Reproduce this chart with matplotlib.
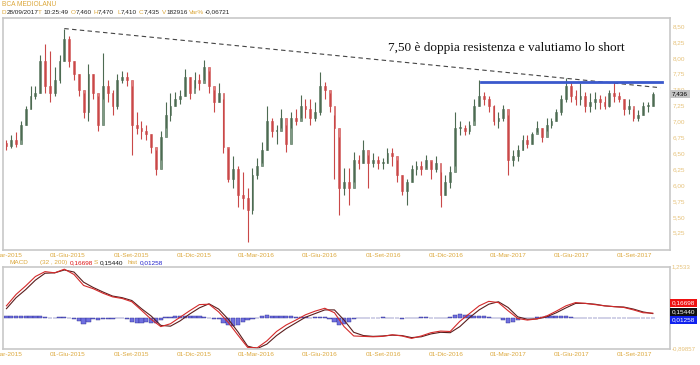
import numpy as np
import pandas as pd
import matplotlib
matplotlib.use("Agg")
import matplotlib.pyplot as plt

# weekly candles (BCA Mediolanum, Mar 2015 - Sep 2017)
close = [6.62, 6.70, 6.65, 6.95, 7.20, 7.40, 7.45, 7.95, 7.55, 7.45,
         7.65, 7.95, 8.30, 7.95, 7.75, 7.50, 7.15, 7.75, 7.45, 6.95,
         7.55, 7.45, 7.25, 7.65, 7.70, 7.65, 6.95, 6.90, 6.85, 6.80,
         6.60, 6.25, 6.75, 7.10, 7.25, 7.35, 7.40, 7.70, 7.45, 7.65,
         7.60, 7.85, 7.55, 7.30, 7.45, 6.60, 6.10, 6.25, 5.85, 5.80,
         5.60, 6.15, 6.30, 6.55, 7.00, 6.85, 6.85, 7.05, 6.65, 7.05,
         7.00, 7.25, 7.20, 7.05, 7.15, 7.55, 7.50, 7.25, 6.90, 5.95,
         6.05, 5.95, 6.40, 6.35, 6.55, 6.35, 6.40, 6.35, 6.35, 6.50,
         6.45, 6.15, 5.90, 6.05, 6.25, 6.30, 6.25, 6.40, 6.25, 6.35,
         5.85, 6.05, 6.20, 6.90, 6.90, 6.85, 6.95, 7.25, 7.40, 7.35,
         7.25, 7.00, 7.05, 7.20, 6.40, 6.45, 6.55, 6.70, 6.65, 6.80,
         6.90, 6.75, 6.95, 7.00, 7.15, 7.35, 7.55, 7.40, 7.35, 7.40,
         7.25, 7.30, 7.35, 7.30, 7.25, 7.45, 7.40, 7.35, 7.20, 7.25,
         7.05, 7.10, 7.25, 7.25, 7.436]
high = [6.70, 6.78, 6.84, 7.00, 7.25, 7.55, 7.55, 8.05, 8.21, 8.10,
        7.85, 8.05, 8.46, 8.35, 7.95, 7.75, 7.45, 7.90, 7.75, 7.40,
        8.07, 7.65, 7.50, 7.75, 7.80, 7.78, 7.55, 7.15, 7.00, 6.95,
        6.80, 6.55, 6.85, 7.30, 7.45, 7.47, 7.50, 7.83, 7.70, 7.78,
        7.75, 7.97, 7.80, 7.50, 7.60, 7.35, 6.58, 6.45, 6.30, 6.20,
        5.95, 6.26, 6.42, 6.68, 7.25, 7.05, 6.95, 7.20, 6.94, 7.15,
        7.20, 7.41, 7.35, 7.35, 7.30, 7.78, 7.62, 7.45, 7.10, 6.75,
        6.26, 6.26, 6.52, 6.47, 6.70, 6.47, 6.50, 6.45, 6.42, 6.58,
        6.58, 6.40, 6.16, 6.10, 6.31, 6.37, 6.37, 6.47, 6.37, 6.45,
        6.20, 6.16, 6.30, 7.15, 7.00, 6.95, 7.00, 7.36, 7.65, 7.47,
        7.40, 7.26, 7.15, 7.26, 7.10, 6.55, 6.63, 6.79, 6.79, 6.84,
        7.00, 6.90, 7.05, 7.05, 7.20, 7.41, 7.68, 7.62, 7.50, 7.60,
        7.47, 7.45, 7.47, 7.41, 7.40, 7.50, 7.62, 7.47, 7.36, 7.35,
        7.20, 7.18, 7.31, 7.30, 7.47]
low = [6.55, 6.58, 6.60, 6.70, 6.95, 7.20, 7.35, 7.45, 7.45, 7.30,
       7.40, 7.60, 7.95, 7.85, 7.65, 7.40, 7.05, 7.00, 7.35, 6.85,
       7.35, 7.30, 7.10, 7.20, 7.60, 7.55, 6.47, 6.80, 6.72, 6.70,
       6.50, 6.16, 6.40, 6.90, 7.00, 7.25, 7.28, 7.40, 7.35, 7.52,
       7.50, 7.65, 7.45, 7.15, 7.30, 6.50, 6.05, 5.95, 5.66, 5.63,
       5.11, 5.55, 6.10, 6.35, 6.55, 6.75, 6.65, 6.90, 6.52, 6.90,
       6.95, 7.05, 7.05, 6.95, 7.00, 7.10, 7.36, 7.15, 6.10, 5.53,
       5.84, 5.68, 6.05, 6.25, 6.35, 5.95, 6.28, 6.25, 6.25, 6.35,
       6.30, 6.05, 5.84, 5.68, 6.05, 6.15, 6.15, 6.26, 6.10, 6.20,
       5.66, 5.85, 5.95, 6.30, 6.79, 6.79, 6.80, 7.00, 7.25, 7.26,
       7.15, 6.94, 6.90, 7.00, 6.16, 6.30, 6.37, 6.55, 6.58, 6.65,
       6.84, 6.68, 6.85, 6.90, 7.00, 7.10, 7.30, 7.31, 7.26, 7.26,
       7.15, 7.15, 7.20, 7.20, 7.20, 7.22, 7.31, 7.30, 7.10, 7.12,
       7.00, 7.00, 7.10, 7.15, 7.25]
first_open = 6.66

# MACD (32, 200), read every two weeks
macd = [0.30, 0.58, 0.79, 1.02, 1.14, 1.11, 1.20, 1.07, 0.80, 0.72,
        0.61, 0.52, 0.48, 0.40, 0.19, -0.03, -0.21, -0.14, 0.02, 0.18,
        0.33, 0.34, 0.15, -0.11, -0.42, -0.72, -0.73, -0.56, -0.33, -0.17,
        -0.05, 0.08, 0.17, 0.24, 0.13, -0.21, -0.44, -0.45, -0.46, -0.45,
        -0.41, -0.44, -0.50, -0.44, -0.36, -0.32, -0.33, -0.08, 0.11, 0.30,
        0.41, 0.38, 0.18, -0.01, -0.05, -0.02, 0.05, 0.17, 0.30, 0.38,
        0.36, 0.33, 0.30, 0.28, 0.26, 0.20, 0.13, 0.12]
signal = [0.23, 0.50, 0.70, 0.93, 1.10, 1.11, 1.18, 1.13, 0.88, 0.75,
          0.64, 0.54, 0.50, 0.43, 0.23, 0.05, -0.18, -0.20, -0.07, 0.10,
          0.25, 0.35, 0.22, -0.03, -0.34, -0.69, -0.75, -0.64, -0.43, -0.26,
          -0.12, 0.02, 0.11, 0.20, 0.20, -0.05, -0.35, -0.43, -0.45, -0.44,
          -0.42, -0.43, -0.48, -0.46, -0.39, -0.35, -0.36, -0.21, 0.01, 0.20,
          0.34, 0.40, 0.26, 0.03, -0.03, -0.02, 0.03, 0.13, 0.25, 0.36,
          0.36, 0.34, 0.30, 0.28, 0.27, 0.22, 0.15, 0.11]
# weekly histogram
hist = [0.05, 0.05, 0.05, 0.05, 0.05, 0.05, 0.04, 0.05, 0.02, 0.00,
        -0.01, 0.02, 0.02, 0.00, -0.03, -0.08, -0.15, -0.10, -0.03, -0.04,
        -0.02, -0.03, -0.02, -0.01, 0.00, -0.02, -0.10, -0.12, -0.12, -0.10,
        -0.13, -0.12, -0.05, 0.02, 0.03, 0.04, 0.05, 0.06, 0.05, 0.04,
        0.04, 0.02, -0.01, -0.02, -0.03, -0.12, -0.18, -0.20, -0.16, -0.10,
        -0.06, -0.02, 0.01, 0.04, 0.07, 0.06, 0.05, 0.05, 0.04, 0.05,
        0.03, 0.03, 0.02, 0.01, 0.02, 0.03, 0.02, -0.03, -0.10, -0.18,
        -0.15, -0.10, -0.03, 0.00, 0.01, -0.01, 0.00, 0.01, 0.02, 0.01,
        0.00, -0.01, -0.02, -0.01, 0.00, 0.01, 0.02, 0.02, 0.01, 0.00,
        -0.01, 0.00, 0.02, 0.08, 0.09, 0.08, 0.07, 0.06, 0.06, 0.05,
        0.03, 0.01, -0.01, -0.04, -0.12, -0.10, -0.04, 0.00, 0.01, 0.01,
        0.02, 0.03, 0.04, 0.04, 0.05, 0.05, 0.04, 0.03, 0.01, 0.00,
        0.00, -0.01, 0.00, 0.00, -0.01, 0.00, 0.00, -0.01, -0.01, -0.01,
        -0.01, -0.01, 0.00, 0.00, 0.01]

tick_dates = ["2015-03-01", "2015-06-01", "2015-09-01", "2015-12-01",
              "2016-03-01", "2016-06-01", "2016-09-01", "2016-12-01",
              "2017-03-01", "2017-06-01", "2017-09-01"]
tick_labels = ["01-Mar-2015", "01-Giu-2015", "01-Set-2015", "01-Dic-2015",
               "01-Mar-2016", "01-Giu-2016", "01-Set-2016", "01-Dic-2016",
               "01-Mar-2017", "01-Giu-2017", "01-Set-2017"]

# trend line from the 2015 top, resistance line
trend_dates = ["2015-05-27", "2017-10-08"]
trend_vals = [8.46, 7.53]
res_dates = ["2017-01-20", "2017-10-10"]
res_vals = [7.62, 7.62]

weeks = pd.date_range("2015-03-04", periods=len(close), freq="7D")
biweeks = pd.date_range("2015-03-04", periods=len(macd), freq="14D")
opens = [first_open] + close[:-1]

ORANGE = "#dca83c"
LIGHT = "#e6c27a"
GRID = "#c8c8c8"
plt.rcParams["font.family"] = ["Liberation Sans", "DejaVu Sans"]

fig = plt.figure(figsize=(7, 3.65), dpi=100)
W, H = 700, 365


def box(l, t, r, b):
    return [l / W, 1 - b / H, (r - l) / W, (b - t) / H]


def ftext(x, y, s, color, size=4.6, **kw):
    fig.text(x / W, 1 - y / H, s, color=color, fontsize=size, va="center", **kw)


ax = fig.add_axes(box(3, 17.5, 670, 250))
ax2 = fig.add_axes(box(3, 267, 670, 349), sharex=ax)

# candles
o = np.array(opens)
c = np.array(close)
up = c >= o
cols = np.where(up, "#7e9a84", "#e27c7c")
edge = np.where(up, "#4d6b52", "#c94848")
ax.vlines(weeks, low, high, colors=edge, lw=0.8)
ax.bar(weeks, np.maximum(np.abs(c - o), 0.015), bottom=np.minimum(o, c),
       width=2.6, color=cols, edgecolor=edge, lw=0.4)

ax.plot(pd.to_datetime(trend_dates), trend_vals, color="#444444", lw=0.8,
        ls=(0, (4, 3)))
ax.plot(pd.to_datetime(res_dates), res_vals, color="#3a58cc", lw=2)
ax.text(0.754, 0.869, "7,50 è doppia resistenza e valutiamo lo short",
        transform=ax.transAxes, ha="center", va="center", fontsize=9.5,
        family=["Liberation Serif", "DejaVu Serif"], color="#111111")

ax.set_ylim(4.978, 8.634)
yt = np.arange(5.25, 8.51, 0.25)
ax.set_yticks(yt)
ax.set_yticklabels([f"{v:.2f}".replace(".", ",") for v in yt])
ax.yaxis.tick_right()
ax.tick_params(axis="y", labelcolor=LIGHT)
ax.text(1.003, (close[-1] - 4.978) / (8.634 - 4.978), "7,436",
        transform=ax.transAxes, fontsize=4.6, va="center", ha="left",
        color="black", bbox=dict(boxstyle="square,pad=0.25", fc="#c4c4c4",
                                 ec="none"))

# MACD pane
ax2.bar(weeks, hist, width=6.2, color="#7070e0", edgecolor="#2a2a90", lw=0.3)
ax2.plot(biweeks, signal, color="#5a1e1e", lw=0.8)
ax2.plot(biweeks, macd, color="#d42a2a", lw=0.8)
ax2.set_ylim(-0.76, 1.2533)
ax2.set_yticks([])
ax2.text(1.003, 1.0, "1,2533", transform=ax2.transAxes, fontsize=4.4,
         color=LIGHT, va="center")
ax2.text(1.003, 0.0, "-0,89857", transform=ax2.transAxes, fontsize=4.4,
         color=LIGHT, va="center")
for yf, s, fc in [(0.561, "0,16698", "#ee1111"), (0.451, "0,15440", "#111111"),
                  (0.354, "0,01258", "#1122ee")]:
    ax2.text(1.003, yf, s, transform=ax2.transAxes, fontsize=4.6, color="white",
             va="center", bbox=dict(boxstyle="square,pad=0.25", fc=fc, ec="none"))

for a in (ax, ax2):
    a.set_xlim(pd.Timestamp("2015-02-27"), pd.Timestamp("2017-10-22"))
    a.set_xticks(pd.to_datetime(tick_dates))
    a.set_xticklabels(tick_labels)
    a.tick_params(axis="both", length=0, labelsize=4.6, pad=2)
    a.tick_params(axis="x", labelbottom=True, labelcolor=ORANGE)
    for sp in a.spines.values():
        sp.set_color(GRID)
        sp.set_linewidth(1.2)

# header lines
ftext(2, 4.5, "BCA MEDIOLANU", ORANGE, size=4.8)
parts = [(1, "D", ORANGE), (7, "28/09/2017", "#222222"), (38, "T", ORANGE),
         (43, "10:25:49", "#222222"), (71, "O", ORANGE), (76, "7,460", "#222222"),
         (93, "H", ORANGE), (98, "7,470", "#222222"), (117, "L", ORANGE),
         (121, "7,410", "#222222"), (139, "C", ORANGE), (144, "7,435", "#222222"),
         (162, "V", ORANGE), (166, "182916", "#222222"), (189, "Var%", ORANGE),
         (205, "-0,06721", "#222222")]
for x, s, col in parts:
    ftext(x, 12, s, col)

mparts = [(10, "MACD", ORANGE), (40, "(32 , 200)", ORANGE),
          (70, "0,16698", "#dd1111"), (94, "S", ORANGE),
          (100, "0,15440", "#111111"), (127, "hist", ORANGE),
          (140, "0,01258", "#2222cc")]
for x, s, col in mparts:
    ftext(x, 262.5, s, col)

fig.savefig("out.png", dpi=100, facecolor="white")
